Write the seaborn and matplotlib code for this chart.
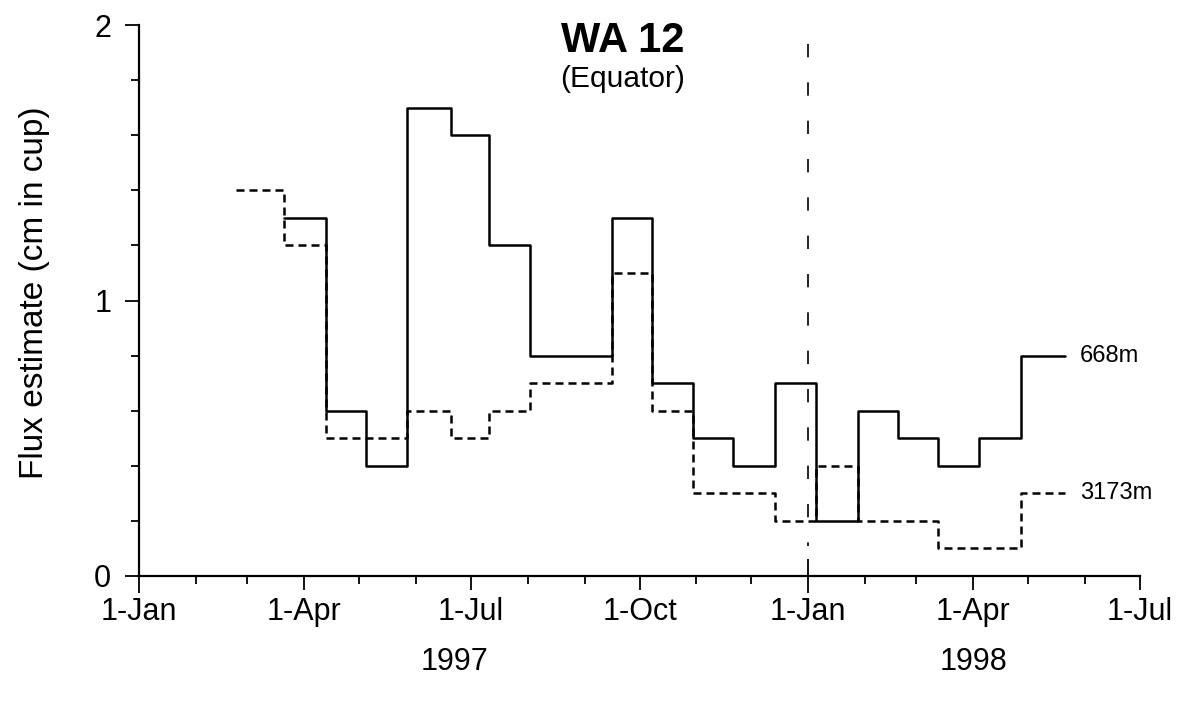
import numpy as np
import pandas as pd
import matplotlib
matplotlib.use("Agg")
import matplotlib.pyplot as plt
import matplotlib.dates as mdates
import seaborn as sns

# interval start dates (cup openings); the last entry is the closing date
edges_668 = ["1997-03-21", "1997-04-13", "1997-05-05", "1997-05-27", "1997-06-20",
             "1997-07-11", "1997-08-02", "1997-08-24", "1997-09-16", "1997-10-08",
             "1997-10-30", "1997-11-21", "1997-12-14", "1998-01-05", "1998-01-28",
             "1998-02-19", "1998-03-13", "1998-04-04", "1998-04-27", "1998-05-21"]
flux_668 = [1.3, 0.6, 0.4, 1.7, 1.6, 1.2, 0.8, 0.8, 1.3, 0.7,
            0.5, 0.4, 0.7, 0.2, 0.6, 0.5, 0.4, 0.5, 0.8]

edges_3173 = ["1997-02-23"] + edges_668
flux_3173 = [1.4, 1.2, 0.5, 0.5, 0.6, 0.5, 0.6, 0.7, 0.7, 1.1,
             0.6, 0.3, 0.3, 0.2, 0.4, 0.2, 0.2, 0.1, 0.1, 0.3]

depths = ["668m", "3173m"]
year_labels = ["1997", "1998"]
year_label_dates = ["1997-06-22", "1998-04-01"]


def stair_frame(edges, values, name):
    # repeat last value at the closing date so steps-post draws the final step
    return pd.DataFrame({"date": pd.to_datetime(edges),
                         "flux": list(values) + [values[-1]],
                         "depth": name})


df = pd.concat([stair_frame(edges_668, flux_668, depths[0]),
                stair_frame(edges_3173, flux_3173, depths[1])], ignore_index=True)

sns.set_style("ticks")
plt.rcParams["font.family"] = ["Liberation Sans", "DejaVu Sans"]
plt.rcParams["text.color"] = "black"
plt.rcParams["axes.labelcolor"] = "black"
plt.rcParams["xtick.color"] = "black"
plt.rcParams["ytick.color"] = "black"

fig = plt.figure(figsize=(11.81, 7.07), dpi=100)
ax = fig.add_axes([0.1177, 0.1853, 0.8476, 0.7793])

sns.lineplot(data=df, x="date", y="flux", style="depth", estimator=None,
             dashes={"668m": "", "3173m": (3.2, 2.0)}, color="black",
             linewidth=1.8, drawstyle="steps-post", legend=False, ax=ax)

# end labels
for name, edges, vals in [(depths[0], edges_668, flux_668),
                          (depths[1], edges_3173, flux_3173)]:
    ax.annotate(name, xy=(pd.Timestamp(edges[-1]), vals[-1]),
                xytext=(11, 0), textcoords="offset points",
                va="center", ha="left", fontsize=17)

# year boundary, dashes start at the top
ax.axvline(pd.Timestamp("1998-01-01"), ymin=0.965, ymax=0.055, color="black",
           linewidth=1.2, dashes=(8, 15))

ax.set_xlim(pd.Timestamp("1997-01-01"), pd.Timestamp("1998-07-01"))
ax.set_ylim(0, 2)
ax.xaxis.set_major_locator(mdates.MonthLocator(bymonth=[1, 4, 7, 10]))
ax.xaxis.set_minor_locator(mdates.MonthLocator())
ax.xaxis.set_major_formatter(mdates.DateFormatter("1-%b"))
ax.set_yticks([0, 1, 2])
ax.set_yticks(np.arange(0, 2.01, 0.2), minor=True)
ax.set_yticklabels(["0", "1", "2"])

ax.tick_params(axis="both", which="major", direction="out", length=10, width=1.3,
               color="black", labelsize=22)
ax.tick_params(axis="both", which="minor", direction="out", length=6, width=1.3,
               color="black")
ax.tick_params(axis="x", which="major", pad=5)
ax.tick_params(axis="y", which="major", pad=10)

# 1-Jan ticks cross the axis
for i in [0, 4]:
    t = ax.xaxis.get_major_ticks()[i]
    t.tick1line.set_marker("|")
    t.tick1line.set_markersize(24)

for s in ["top", "right"]:
    ax.spines[s].set_visible(False)
for s in ["left", "bottom"]:
    ax.spines[s].set_linewidth(1.6)
    ax.spines[s].set_color("black")

ax.set_xlabel("")
ax.set_ylabel("Flux estimate (cm in cup)", fontsize=24)
ax.yaxis.set_label_coords(-0.089, 0.514)

for lab, d in zip(year_labels, year_label_dates):
    ax.text(pd.Timestamp(d), -0.156, lab, transform=ax.get_xaxis_transform(),
            ha="center", va="center", fontsize=22)

ax.text(0.4835, 0.971, "WA 12", transform=ax.transAxes, ha="center", va="center",
        fontsize=30, fontweight="bold")
ax.text(0.4835, 0.902, "(Equator)", transform=ax.transAxes, ha="center",
        va="center", fontsize=21.5)

fig.savefig("out.png", dpi=100, facecolor="white")
